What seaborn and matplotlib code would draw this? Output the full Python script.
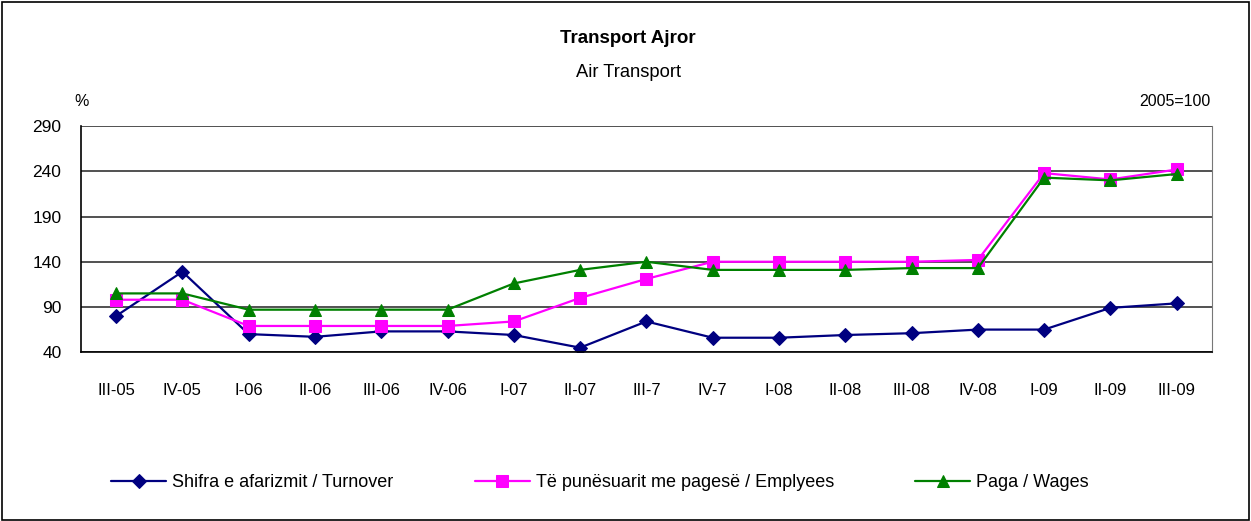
import numpy as np
import pandas as pd
import matplotlib
matplotlib.use("Agg")
import matplotlib.pyplot as plt
import seaborn as sns
from matplotlib.patches import Rectangle

quarters = ["III-05", "IV-05", "I-06", "II-06", "III-06", "IV-06", "I-07", "II-07",
            "III-7", "IV-7", "I-08", "II-08", "III-08", "IV-08", "I-09", "II-09", "III-09"]
turnover = [80, 129, 60, 57, 63, 63, 59, 45, 74, 56, 56, 59, 61, 65, 65, 89, 94]
employees = [98, 98, 69, 69, 69, 69, 74, 100, 121, 140, 140, 140, 140, 142, 238, 231, 242]
wages = [105, 105, 87, 87, 87, 87, 116, 131, 140, 131, 131, 131, 133, 133, 233, 230, 237]

series_names = ["Shifra e afarizmit / Turnover", "Të punësuarit me pagesë / Emplyees", "Paga / Wages"]
series_colors = ["#000080", "#FF00FF", "#008000"]
series_markers = ["D", "s", "^"]
yticks = [40, 90, 140, 190, 240, 290]

sns.set_style("white")
plt.rcParams["font.family"] = ["Liberation Sans", "DejaVu Sans"]
plt.rcParams["text.color"] = "black"
plt.rcParams["xtick.color"] = "black"
plt.rcParams["ytick.color"] = "black"

fig = plt.figure(figsize=(12.51, 5.21), dpi=100)
ax = fig.add_axes([0.0647, 0.324, 0.904, 0.434])

x = np.arange(len(quarters))
for vals, name, col, mk in zip([turnover, employees, wages], series_names, series_colors, series_markers):
    sns.lineplot(x=x, y=vals, ax=ax, color=col, marker=mk, markersize=8 if mk != "D" else 7,
                 markeredgecolor=col, linewidth=1.6, label=name)

ax.set_xlim(-0.53, 16.53)
ax.set_ylim(40, 290)
ax.set_yticks(yticks)
ax.set_yticklabels([str(v) for v in yticks], fontsize=12.5)
ax.set_xticks(x)
ax.set_xticklabels(quarters, fontsize=12)
ax.set_xticks(np.arange(-0.5, 17, 1), minor=True)
ax.tick_params(axis="x", which="major", length=0, pad=22)
ax.tick_params(axis="x", which="minor", length=6, color="#555555", direction="out")
ax.tick_params(axis="y", length=6, color="black", direction="out", pad=8)
ax.yaxis.grid(True, color="#333333", linewidth=1.2)
ax.set_axisbelow(True)
ax.set_xlabel("")
ax.set_ylabel("")
for side in ["left", "bottom"]:
    ax.spines[side].set_color("black")
    ax.spines[side].set_linewidth(1.2)
ax.spines["top"].set_visible(False)
ax.spines["right"].set_color("#777777")

ax.legend(loc="center", bbox_to_anchor=(0.4796, 0.073), bbox_transform=fig.transFigure,
          ncol=3, frameon=False, fontsize=13, handlelength=3.05, columnspacing=4.5,
          handletextpad=0.33)

fig.text(0.502, 0.926, "Transport Ajror", ha="center", va="center", fontsize=13.5, fontweight="bold")
fig.text(0.502, 0.86, "Air Transport", ha="center", va="center", fontsize=13.2)
fig.text(0.0655, 0.805, "%", ha="center", va="center", fontsize=11.5)
fig.text(0.968, 0.805, "2005=100", ha="right", va="center", fontsize=11.5)

fig.patches.append(Rectangle((0.0015, 0.002), 0.997, 0.995, transform=fig.transFigure,
                             fill=False, edgecolor="black", linewidth=1.2))

fig.savefig("out.png", dpi=100)
